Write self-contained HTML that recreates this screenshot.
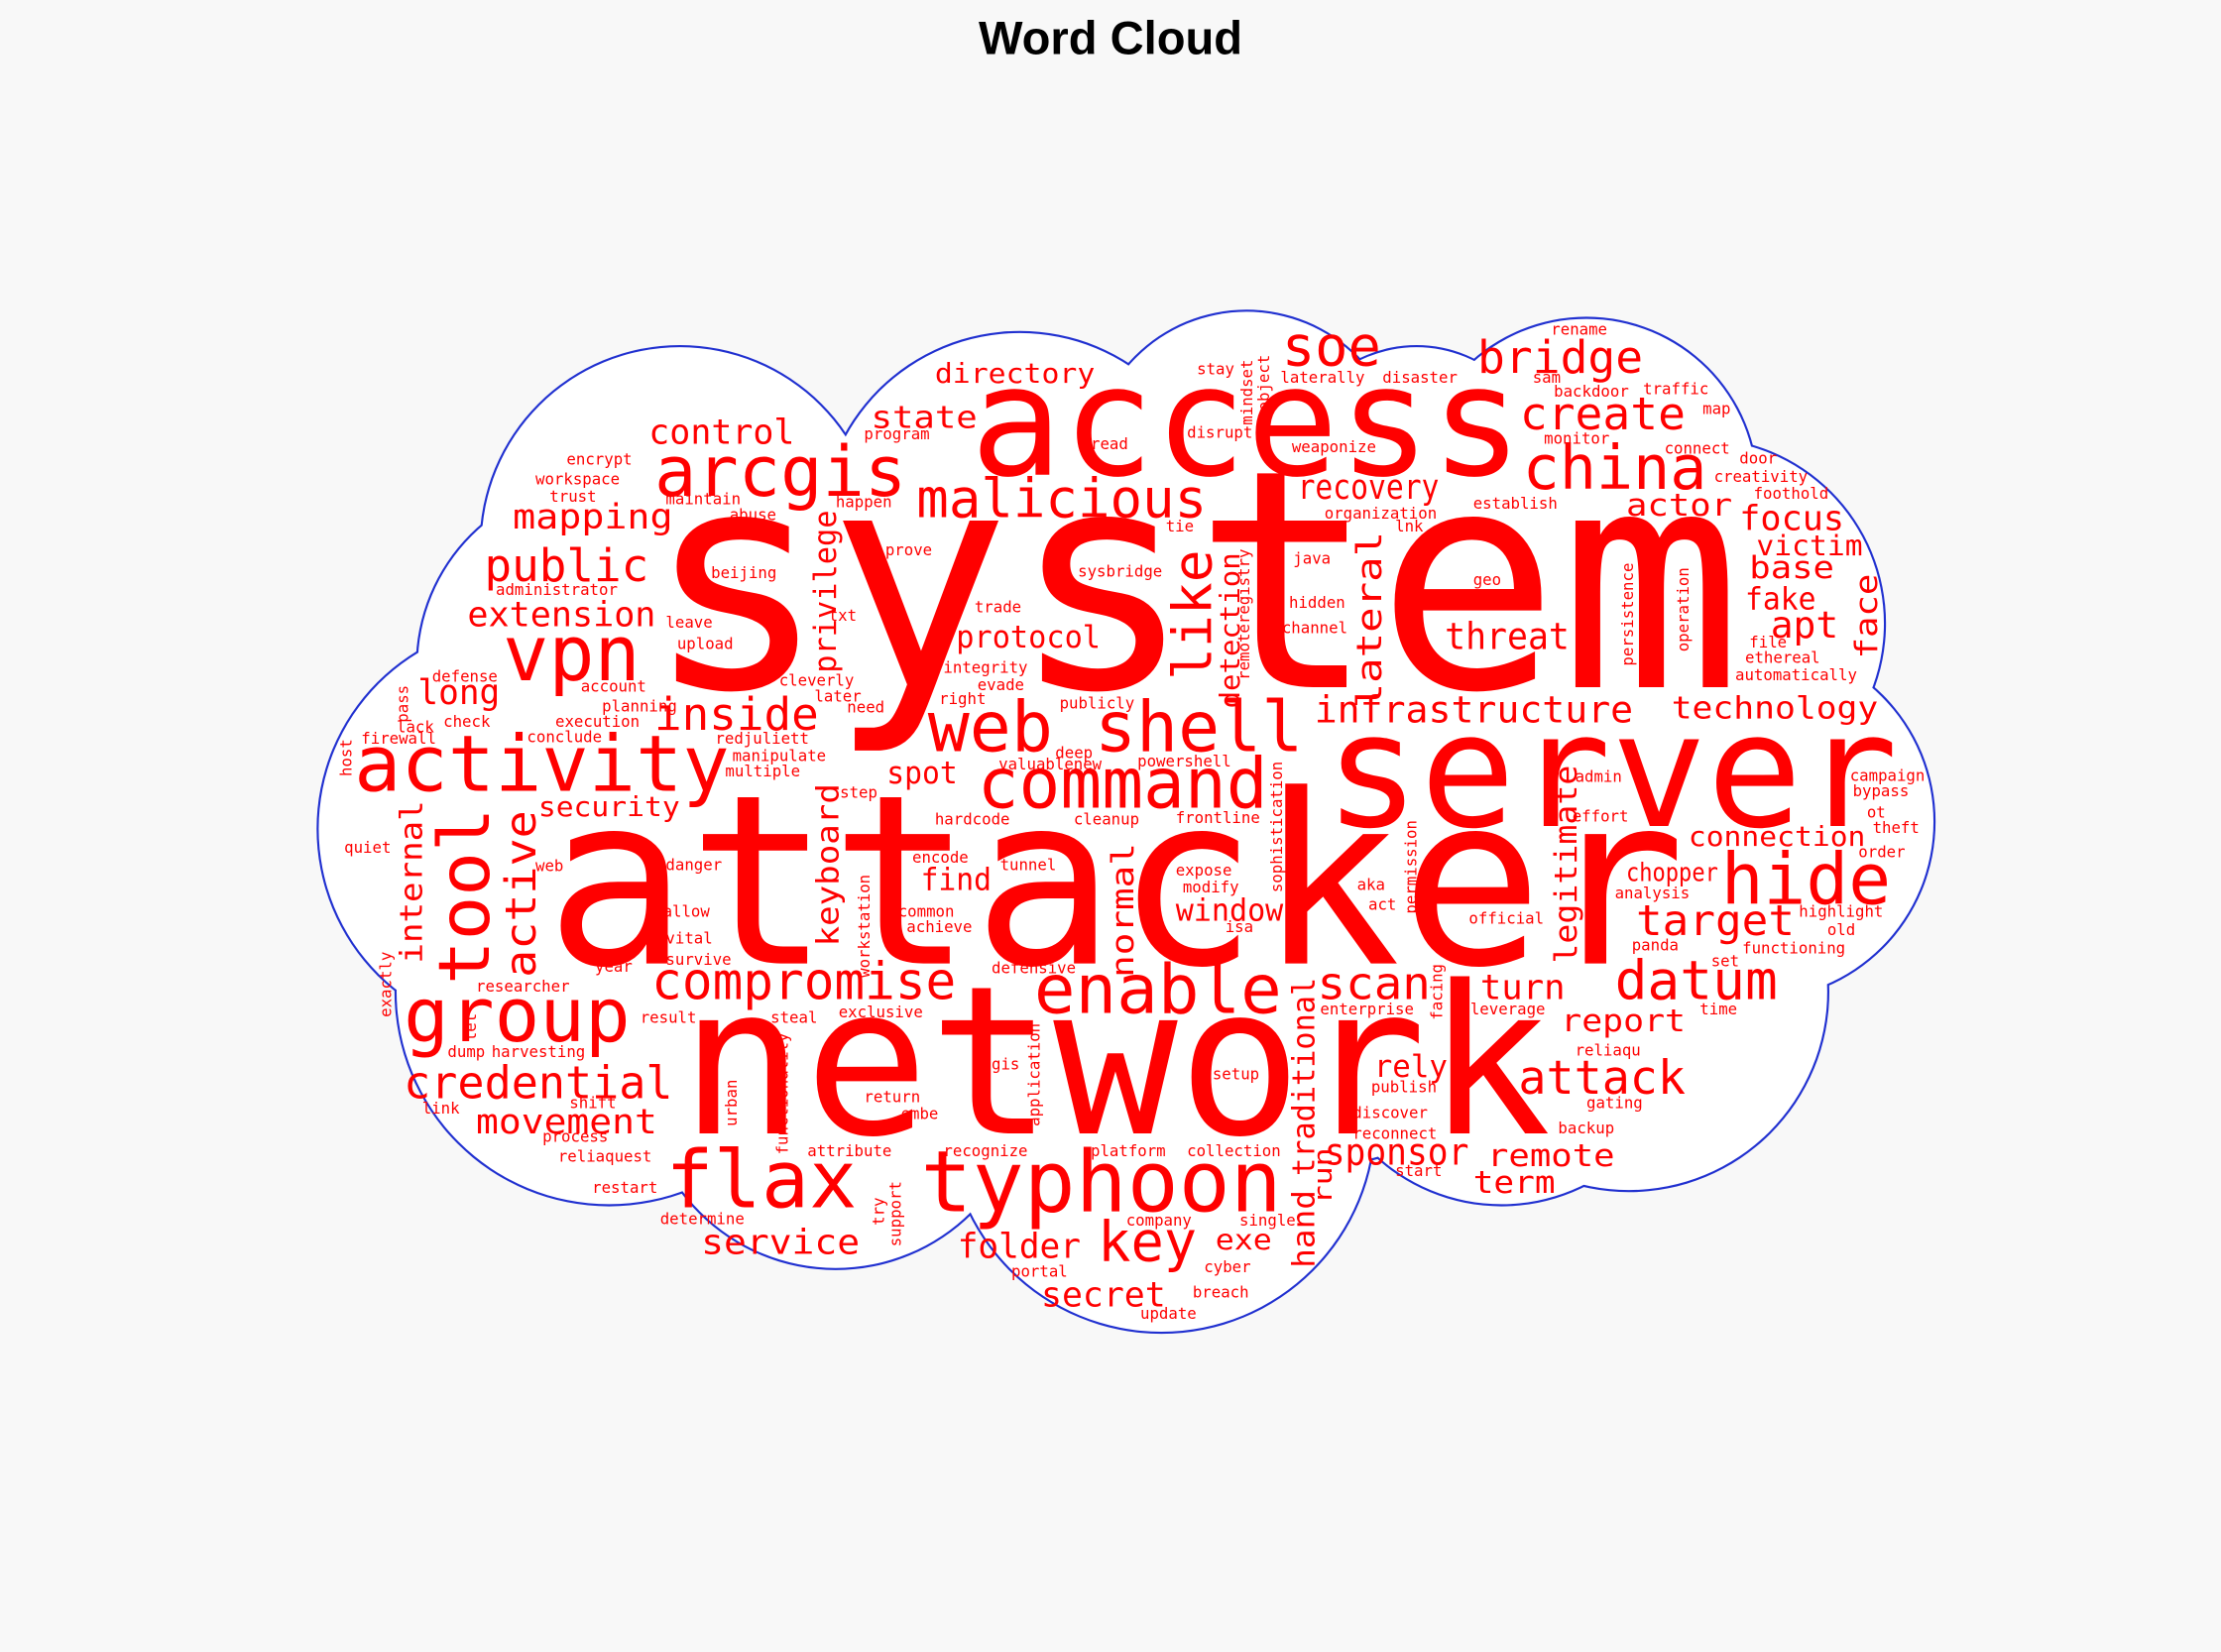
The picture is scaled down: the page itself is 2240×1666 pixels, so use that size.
<!DOCTYPE html>
<html><head><meta charset="utf-8"><style>
html,body{margin:0;padding:0;background:#f8f8f8;}
svg{display:block;}
text{font-family:"DejaVu Sans Mono","Liberation Mono",monospace;fill:#ff0000;}
.s{fill:#ff3030;font-size:11px;}
.t{font-family:"Liberation Sans",sans-serif;font-weight:bold;fill:#000;}
</style></head><body>
<svg width="2240" height="1666" viewBox="0 0 1568 1166" xmlns="http://www.w3.org/2000/svg">
<rect width="1568" height="1166" fill="#f8f8f8"/>
<text class="t" x="784" y="38" font-size="33" text-anchor="middle">Word Cloud</text>
<g fill="#2030d0">
<ellipse cx="790" cy="580" rx="441.5" ry="261.5"/>
<circle cx="480" cy="385" r="141.5"/><circle cx="720" cy="375" r="141.5"/>
<circle cx="880" cy="330" r="111.5"/><circle cx="1120" cy="345" r="121.5"/>
<circle cx="1000" cy="335" r="91.5"/>
<circle cx="1200" cy="440" r="131.5"/><circle cx="1240" cy="580" r="126.5"/>
<circle cx="1150" cy="700" r="141.5"/><circle cx="1060" cy="720" r="131.5"/>
<circle cx="820" cy="790" r="151.5"/><circle cx="590" cy="760" r="136.5"/>
<circle cx="430" cy="700" r="151.5"/><circle cx="370" cy="585" r="146.5"/>
<circle cx="425" cy="470" r="131.5"/>
</g>
<g fill="#fff">
<ellipse cx="790" cy="580" rx="440" ry="260"/>
<circle cx="480" cy="385" r="140"/><circle cx="720" cy="375" r="140"/>
<circle cx="880" cy="330" r="110"/><circle cx="1120" cy="345" r="120"/>
<circle cx="1000" cy="335" r="90"/>
<circle cx="1200" cy="440" r="130"/><circle cx="1240" cy="580" r="125"/>
<circle cx="1150" cy="700" r="140"/><circle cx="1060" cy="720" r="130"/>
<circle cx="820" cy="790" r="150"/><circle cx="590" cy="760" r="135"/>
<circle cx="430" cy="700" r="150"/><circle cx="370" cy="585" r="145"/>
<circle cx="425" cy="470" r="130"/>
</g>
<g>
<text x="455" y="485" font-size="215" textLength="775" lengthAdjust="spacingAndGlyphs">system</text>
<text x="385" y="680" font-size="167" textLength="805" lengthAdjust="spacingAndGlyphs">attacker</text>
<text x="480" y="800" font-size="146" textLength="615" lengthAdjust="spacingAndGlyphs">network</text>
<text x="935" y="583" font-size="112" textLength="405" lengthAdjust="spacingAndGlyphs">server</text>
<text x="685" y="335" font-size="108" textLength="390" lengthAdjust="spacingAndGlyphs">access</text>
<text x="462" y="350" font-size="49" textLength="178" lengthAdjust="spacingAndGlyphs">arcgis</text>
<text x="250" y="558" font-size="55" textLength="265" lengthAdjust="spacingAndGlyphs">activity</text>
<text x="355" y="480" font-size="54" textLength="97" lengthAdjust="spacingAndGlyphs">vpn</text>
<text x="285" y="735" font-size="53" textLength="160" lengthAdjust="spacingAndGlyphs">group</text>
<text x="470" y="852" font-size="56" textLength="135" lengthAdjust="spacingAndGlyphs">flax</text>
<text x="650" y="855" font-size="60" textLength="255" lengthAdjust="spacingAndGlyphs">typhoon</text>
<text x="655" y="530" font-size="49" textLength="265" lengthAdjust="spacingAndGlyphs">web shell</text>
<text x="690" y="570" font-size="49" textLength="205" lengthAdjust="spacingAndGlyphs">command</text>
<text x="730" y="715" font-size="48" textLength="175" lengthAdjust="spacingAndGlyphs">enable</text>
<text x="460" y="705" font-size="36" textLength="215" lengthAdjust="spacingAndGlyphs">compromise</text>
<text x="285" y="775" font-size="32" textLength="190" lengthAdjust="spacingAndGlyphs">credential</text>
<text x="1140" y="705" font-size="38" textLength="115" lengthAdjust="spacingAndGlyphs">datum</text>
<text x="1215" y="638" font-size="50" textLength="120" lengthAdjust="spacingAndGlyphs">hide</text>
<text x="1075" y="345" font-size="43" textLength="130" lengthAdjust="spacingAndGlyphs">china</text>
<text x="1073" y="303" font-size="32" textLength="117" lengthAdjust="spacingAndGlyphs">create</text>
<text x="1043" y="263" font-size="32" textLength="117" lengthAdjust="spacingAndGlyphs">bridge</text>
<text x="905" y="258" font-size="39" textLength="70" lengthAdjust="spacingAndGlyphs">soe</text>
<text x="647" y="365" font-size="38" textLength="205" lengthAdjust="spacingAndGlyphs">malicious</text>
<text x="462" y="515" font-size="32" textLength="116" lengthAdjust="spacingAndGlyphs">inside</text>
<text x="342" y="410" font-size="32" textLength="116" lengthAdjust="spacingAndGlyphs">public</text>
<text x="1072" y="772" font-size="33" textLength="118" lengthAdjust="spacingAndGlyphs">attack</text>
<text x="775" y="890" font-size="39" textLength="70" lengthAdjust="spacingAndGlyphs">key</text>
<text x="330" y="442" font-size="24" textLength="133" lengthAdjust="spacingAndGlyphs">extension</text>
<text x="362" y="373" font-size="24" textLength="113" lengthAdjust="spacingAndGlyphs">mapping</text>
<text x="458" y="313" font-size="24" textLength="103" lengthAdjust="spacingAndGlyphs">control</text>
<text x="615" y="302" font-size="22" textLength="75" lengthAdjust="spacingAndGlyphs">state</text>
<text x="660" y="270" font-size="19" textLength="113" lengthAdjust="spacingAndGlyphs">directory</text>
<text x="295" y="497" font-size="24" textLength="58" lengthAdjust="spacingAndGlyphs">long</text>
<text x="380" y="576" font-size="19" textLength="100" lengthAdjust="spacingAndGlyphs">security</text>
<text x="336" y="800" font-size="24" textLength="128" lengthAdjust="spacingAndGlyphs">movement</text>
<text x="495" y="885" font-size="24" textLength="112" lengthAdjust="spacingAndGlyphs">service</text>
<text x="676" y="888" font-size="24" textLength="87" lengthAdjust="spacingAndGlyphs">folder</text>
<text x="735" y="922" font-size="24" textLength="88" lengthAdjust="spacingAndGlyphs">secret</text>
<text x="675" y="457" font-size="22" textLength="102" lengthAdjust="spacingAndGlyphs">protocol</text>
<text x="626" y="553" font-size="22" textLength="50" lengthAdjust="spacingAndGlyphs">spot</text>
<text x="650" y="628" font-size="22" textLength="50" lengthAdjust="spacingAndGlyphs">find</text>
<text x="830" y="650" font-size="22" textLength="76" lengthAdjust="spacingAndGlyphs">window</text>
<text x="930" y="705" font-size="32" textLength="80" lengthAdjust="spacingAndGlyphs">scan</text>
<text x="916" y="352" font-size="24" textLength="100" lengthAdjust="spacingAndGlyphs">recovery</text>
<text x="1148" y="364" font-size="22" textLength="75" lengthAdjust="spacingAndGlyphs">actor</text>
<text x="1228" y="374" font-size="24" textLength="74" lengthAdjust="spacingAndGlyphs">focus</text>
<text x="1240" y="392" font-size="20" textLength="75" lengthAdjust="spacingAndGlyphs">victim</text>
<text x="1235" y="408" font-size="22" textLength="60" lengthAdjust="spacingAndGlyphs">base</text>
<text x="1232" y="430" font-size="22" textLength="50" lengthAdjust="spacingAndGlyphs">fake</text>
<text x="1250" y="450" font-size="26" textLength="48" lengthAdjust="spacingAndGlyphs">apt</text>
<text x="1020" y="458" font-size="26" textLength="88" lengthAdjust="spacingAndGlyphs">threat</text>
<text x="928" y="510" font-size="26" textLength="225" lengthAdjust="spacingAndGlyphs">infrastructure</text>
<text x="1180" y="507" font-size="22" textLength="146" lengthAdjust="spacingAndGlyphs">technology</text>
<text x="1192" y="597" font-size="19" textLength="125" lengthAdjust="spacingAndGlyphs">connection</text>
<text x="1148" y="622" font-size="18" textLength="65" lengthAdjust="spacingAndGlyphs">chopper</text>
<text x="1155" y="660" font-size="30" textLength="112" lengthAdjust="spacingAndGlyphs">target</text>
<text x="1045" y="705" font-size="24" textLength="60" lengthAdjust="spacingAndGlyphs">turn</text>
<text x="1102" y="728" font-size="22" textLength="88" lengthAdjust="spacingAndGlyphs">report</text>
<text x="970" y="760" font-size="22" textLength="52" lengthAdjust="spacingAndGlyphs">rely</text>
<text x="935" y="822" font-size="26" textLength="102" lengthAdjust="spacingAndGlyphs">sponsor</text>
<text x="1050" y="823" font-size="22" textLength="90" lengthAdjust="spacingAndGlyphs">remote</text>
<text x="1040" y="842" font-size="22" textLength="58" lengthAdjust="spacingAndGlyphs">term</text>
<text x="858" y="882" font-size="20" textLength="40" lengthAdjust="spacingAndGlyphs">exe</text>
</g>
<text transform="translate(345,695) rotate(-90)" font-size="50" textLength="125" lengthAdjust="spacingAndGlyphs">tool</text>
<text transform="translate(378,690) rotate(-90)" font-size="30" textLength="118" lengthAdjust="spacingAndGlyphs">active</text>
<text transform="translate(298,680) rotate(-90)" font-size="22" textLength="115" lengthAdjust="spacingAndGlyphs">internal</text>
<text transform="translate(590,475) rotate(-90)" font-size="22" textLength="115" lengthAdjust="spacingAndGlyphs">privilege</text>
<text transform="translate(592,668) rotate(-90)" font-size="22" textLength="115" lengthAdjust="spacingAndGlyphs">keyboard</text>
<text transform="translate(855,480) rotate(-90)" font-size="38" textLength="92" lengthAdjust="spacingAndGlyphs">like</text>
<text transform="translate(875,500) rotate(-90)" font-size="19" textLength="110" lengthAdjust="spacingAndGlyphs">detection</text>
<text transform="translate(975,500) rotate(-90)" font-size="24" textLength="125" lengthAdjust="spacingAndGlyphs">lateral</text>
<text transform="translate(800,690) rotate(-90)" font-size="22" textLength="95" lengthAdjust="spacingAndGlyphs">normal</text>
<text transform="translate(928,830) rotate(-90)" font-size="22" textLength="140" lengthAdjust="spacingAndGlyphs">traditional</text>
<text transform="translate(928,895) rotate(-90)" font-size="22" textLength="55" lengthAdjust="spacingAndGlyphs">hand</text>
<text transform="translate(940,850) rotate(-90)" font-size="18" textLength="40" lengthAdjust="spacingAndGlyphs">run</text>
<text transform="translate(1113,680) rotate(-90)" font-size="22" textLength="140" lengthAdjust="spacingAndGlyphs">legitimate</text>
<text transform="translate(1325,465) rotate(-90)" font-size="22" textLength="60" lengthAdjust="spacingAndGlyphs">face</text>
<g class="s">
<text x="400" y="328">encrypt</text><text x="378" y="342">workspace</text><text x="388" y="354">trust</text>
<text x="470" y="356">maintain</text><text x="515" y="367">abuse</text><text x="590" y="358">happen</text>
<text x="610" y="310">program</text><text x="625" y="392">prove</text><text x="502" y="408">beijing</text>
<text x="350" y="420">administrator</text><text x="470" y="443">leave</text><text x="478" y="458">upload</text>
<text x="585" y="438">txt</text><text x="688" y="432">trade</text><text x="666" y="475">integrity</text>
<text x="690" y="487">evade</text><text x="663" y="497">right</text><text x="748" y="500">publicly</text>
<text x="305" y="481">defense</text><text x="410" y="488">account</text><text x="425" y="502">planning</text>
<text x="550" y="484">cleverly</text><text x="575" y="495">later</text><text x="598" y="503">need</text>
<text x="280" y="517">lack</text><text x="313" y="513">check</text><text x="392" y="513">execution</text>
<text x="372" y="524">conclude</text><text x="255" y="525">firewall</text><text x="505" y="525">redjuliett</text>
<text x="517" y="537">manipulate</text><text x="512" y="548">multiple</text><text x="745" y="535">deep</text>
<text x="705" y="543">valuablenew</text><text x="803" y="541">powershell</text><text x="593" y="563">step</text>
<text x="660" y="582">hardcode</text><text x="758" y="582">cleanup</text><text x="830" y="581">frontline</text>
<text x="243" y="602">quiet</text><text x="378" y="615">web</text><text x="470" y="614">danger</text>
<text x="644" y="609">encode</text><text x="706" y="614">tunnel</text><text x="830" y="618">expose</text>
<text x="835" y="630">modify</text><text x="958" y="628">aka</text><text x="966" y="642">act</text>
<text x="468" y="647">allow</text><text x="634" y="647">common</text><text x="640" y="658">achieve</text>
<text x="865" y="658">isa</text><text x="1037" y="652">official</text><text x="1140" y="634">analysis</text>
<text x="470" y="666">vital</text><text x="470" y="681">survive</text><text x="420" y="686">year</text>
<text x="700" y="687">defensive</text><text x="1152" y="671">panda</text><text x="1230" y="673">functioning</text>
<text x="336" y="700">researcher</text><text x="592" y="718">exclusive</text><text x="452" y="722">result</text>
<text x="544" y="722">steal</text><text x="932" y="716">enterprise</text><text x="1038" y="716">leverage</text>
<text x="1200" y="716">time</text><text x="1208" y="682">set</text><text x="316" y="746">dump</text>
<text x="347" y="746">harvesting</text><text x="700" y="755">gis</text><text x="856" y="762">setup</text>
<text x="1112" y="745">reliaqu</text><text x="968" y="771">publish</text><text x="1120" y="782">gating</text>
<text x="402" y="782">shift</text><text x="298" y="786">link</text><text x="610" y="778">return</text>
<text x="636" y="790">embe</text><text x="955" y="789">discover</text><text x="1100" y="800">backup</text>
<text x="383" y="806">process</text><text x="955" y="804">reconnect</text><text x="394" y="820">reliaquest</text>
<text x="570" y="816">attribute</text><text x="666" y="816">recognize</text><text x="770" y="816">platform</text>
<text x="838" y="816">collection</text><text x="985" y="830">start</text><text x="418" y="842">restart</text>
<text x="466" y="864">determine</text><text x="795" y="865">company</text><text x="875" y="865">single</text>
<text x="850" y="898">cyber</text><text x="714" y="901">portal</text><text x="842" y="916">breach</text>
<text x="805" y="931">update</text><text x="770" y="317">read</text><text x="838" y="309">disrupt</text>
<text x="912" y="319">weaponize</text><text x="935" y="366">organization</text><text x="1040" y="359">establish</text>
<text x="985" y="375">lnk</text><text x="823" y="375">tie</text><text x="913" y="398">java</text>
<text x="761" y="407">sysbridge</text><text x="910" y="429">hidden</text><text x="905" y="447">channel</text>
<text x="1040" y="413">geo</text><text x="845" y="264">stay</text><text x="904" y="270">laterally</text>
<text x="976" y="270">disaster</text><text x="1082" y="270">sam</text><text x="1095" y="236">rename</text>
<text x="1097" y="280">backdoor</text><text x="1160" y="278">traffic</text><text x="1202" y="292">map</text>
<text x="1090" y="313">monitor</text><text x="1175" y="320">connect</text><text x="1228" y="327">door</text>
<text x="1210" y="340">creativity</text><text x="1238" y="352">foothold</text><text x="1235" y="457">file</text>
<text x="1232" y="468">ethereal</text><text x="1225" y="480">automatically</text><text x="1112" y="552">admin</text>
<text x="1306" y="551">campaign</text><text x="1308" y="562">bypass</text><text x="1110" y="580">effort</text>
<text x="1318" y="577">ot</text><text x="1322" y="588">theft</text><text x="1312" y="605">order</text>
<text x="1270" y="647">highlight</text><text x="1290" y="660">old</text>
</g>
<g class="s">
<text transform="translate(288,510) rotate(-90)">pass</text>
<text transform="translate(248,548) rotate(-90)">host</text>
<text transform="translate(276,718) rotate(-90)">exactly</text>
<text transform="translate(336,735) rotate(-90)">let</text>
<text transform="translate(614,690) rotate(-90)">workstation</text>
<text transform="translate(520,795) rotate(-90)">urban</text>
<text transform="translate(556,815) rotate(-90)">functionality</text>
<text transform="translate(734,795) rotate(-90)">application</text>
<text transform="translate(624,865) rotate(-90)">try</text>
<text transform="translate(636,880) rotate(-90)">support</text>
<text transform="translate(884,300) rotate(-90)">mindset</text>
<text transform="translate(896,290) rotate(-90)">object</text>
<text transform="translate(882,480) rotate(-90)">remoteregistry</text>
<text transform="translate(905,630) rotate(-90)">sophistication</text>
<text transform="translate(1000,645) rotate(-90)">permission</text>
<text transform="translate(1018,720) rotate(-90)">facing</text>
<text transform="translate(1153,470) rotate(-90)">persistence</text>
<text transform="translate(1192,460) rotate(-90)">operation</text>
</g>
</svg>
</body></html>
